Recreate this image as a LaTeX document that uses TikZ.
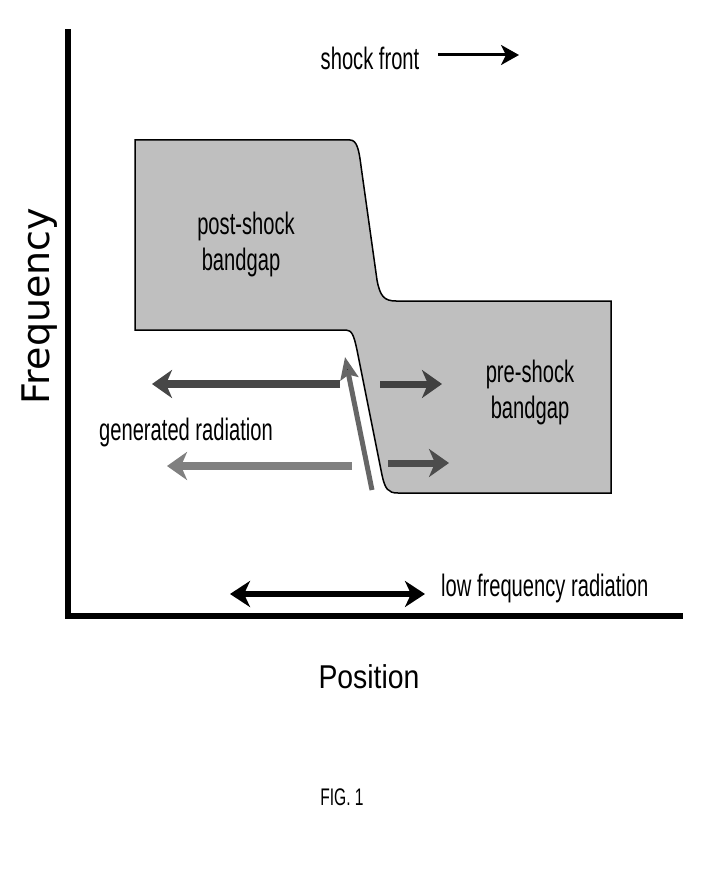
\documentclass[tikz,border=0pt]{standalone}
\usepackage{fontspec}
\setmainfont{Liberation Sans}[FakeStretch=0.65]
\newfontfamily\posfont{Liberation Sans}[FakeStretch=0.86]
\newfontfamily\freqfont{DejaVu Sans}
\usetikzlibrary{arrows.meta}
\begin{document}
\begin{tikzpicture}[x=1pt,y=-1pt,
  lbl/.style={inner sep=0pt,anchor=base,font=\fontsize{31}{33}\selectfont},
  axisline/.style={line width=6pt,line cap=rect},
  band/.style={draw=black,line width=1.5pt,fill=black!25},
  radarrow/.style={line width=8pt,-{Stealth[length=20pt,width=28pt,inset=6pt]}},
  ]
\path[use as bounding box,fill=white] (0,0) rectangle (716,882);
% axes
\coordinate (o) at (68,616);
\coordinate (ytop) at (68,32);
\coordinate (xend) at (680,616);
\draw[axisline] (ytop) -- (o) -- (xend);
% band
\draw[band] (135,140) -- (350,140)
  .. controls (357,140) and (359,150) .. (361,166)
  -- (377,280)
  .. controls (380,296) and (384,301) .. (396,301)
  -- (611,301) -- (611,493) -- (398,493)
  .. controls (388,493) and (385,489) .. (382,475)
  -- (357,350)
  .. controls (354,336) and (352,330) .. (346,330)
  -- (135,330) -- cycle;
% labels in band
\node[lbl] (post1) at (246,235) {post-shock};
\node[lbl] (post2) at (241,270) {bandgap};
\node[lbl] (pre1) at (530,382) {pre-shock};
\node[lbl] (pre2) at (530,418) {bandgap};
% generated radiation arrows
\coordinate (ula) at (340,384); \coordinate (ulb) at (152,384);
\coordinate (lla) at (352,466); \coordinate (llb) at (167,466);
\draw[radarrow,draw=black!72,fill=black!72] (ula) -- (ulb);
\draw[radarrow,draw=black!50,fill=black!50] (lla) -- (llb);
\coordinate (ura) at (380,384); \coordinate (urb) at (442,384);
\coordinate (lra) at (388,463); \coordinate (lrb) at (449,463);
\draw[radarrow,line width=7pt,draw=black!75,fill=black!75] (ura) -- (urb);
\draw[radarrow,line width=7pt,draw=black!70,fill=black!70] (lra) -- (lrb);
\coordinate (va) at (372,490); \coordinate (vb) at (345,357);
\draw[line width=5pt,draw=black!60,-{Stealth[length=22pt,width=18pt,inset=4pt,fill=black]}] (va) -- (vb);
\node[lbl] (gen) at (186,440) {generated radiation};
% low frequency
\coordinate (lfa) at (230,594); \coordinate (lfb) at (425,594);
\draw[line width=6pt,{Stealth[length=20pt,width=26pt,inset=6pt]}-{Stealth[length=20pt,width=26pt,inset=6pt]}] (lfa) -- (lfb);
\node[lbl,anchor=base west] (lf) at (441,596) {low frequency radiation};
% shock front
\node[lbl] (sf) at (370,70) {shock front};
\coordinate (sfa) at (438,55); \coordinate (sfb) at (519,55);
\draw[line width=3pt,-{Stealth[length=18pt,width=20pt,inset=5pt]}] (sfa) -- (sfb);
% axis titles
\node[inner sep=0pt,anchor=base,font=\posfont\fontsize{33}{36}\selectfont] (pos) at (369,688) {Position};
\node[inner sep=0pt,anchor=base,rotate=90,font=\freqfont\fontsize{38}{42}\selectfont] (freq) at (49,306) {Frequency};
\node[inner sep=0pt,anchor=base,font=\fontsize{24}{26}\selectfont] (fig) at (342,805) {FIG. 1};
\end{tikzpicture}
\end{document}
